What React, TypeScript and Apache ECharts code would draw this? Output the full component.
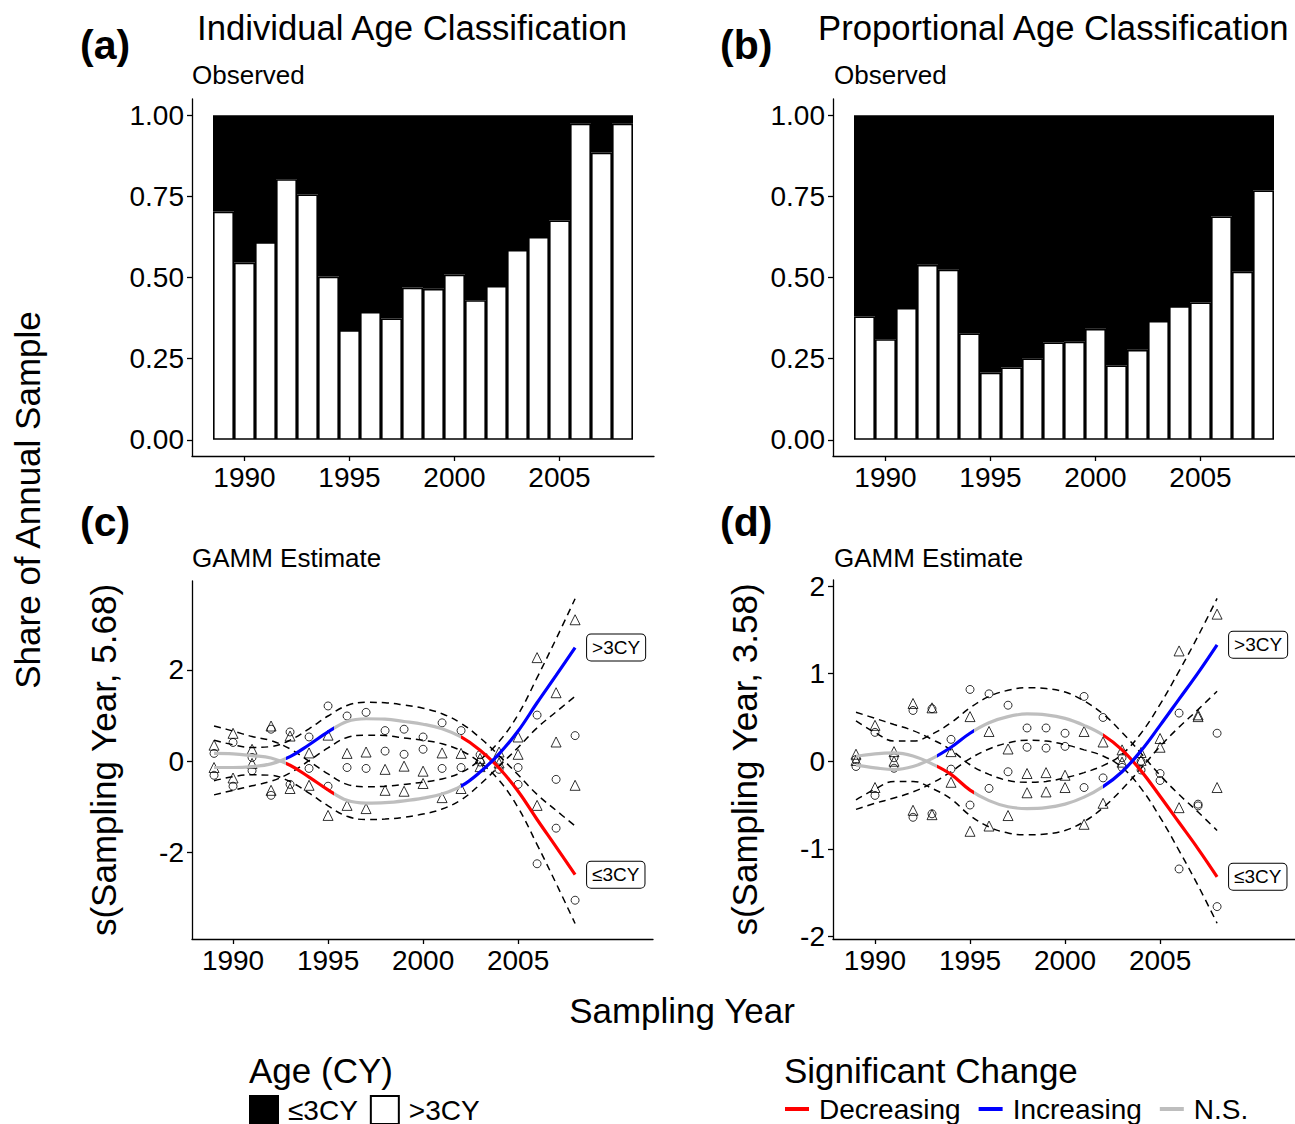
import React, { useEffect, useRef } from 'react';
import * as echarts from 'echarts';

// ---------------- DATA ----------------
const years = [1989, 1990, 1991, 1992, 1993, 1994, 1995, 1996, 1997, 1998, 1999, 2000, 2001, 2002, 2003, 2004, 2005, 2006, 2007, 2008];
// category slots of the observed-share panels (one empty slot on each side)
const barCategories = ['1988', '1989', '1990', '1991', '1992', '1993', '1994', '1995', '1996', '1997', '1998', '1999', '2000', '2001', '2002', '2003', '2004', '2005', '2006', '2007', '2008', '2009'];

// Observed shares (panel a: individual age classification)
const indOlderShare = [0.703, 0.546, 0.609, 0.803, 0.756, 0.503, 0.338, 0.394, 0.374, 0.469, 0.465, 0.509, 0.430, 0.474, 0.585, 0.625, 0.676, 0.974, 0.885, 0.974];
const indYoungShare = [0.297, 0.454, 0.391, 0.197, 0.244, 0.497, 0.662, 0.606, 0.626, 0.531, 0.535, 0.491, 0.570, 0.526, 0.415, 0.375, 0.324, 0.026, 0.115, 0.026];
// Observed shares (panel b: proportional age classification)
const propOlderShare = [0.380, 0.310, 0.406, 0.539, 0.524, 0.328, 0.207, 0.223, 0.251, 0.300, 0.302, 0.342, 0.229, 0.277, 0.366, 0.412, 0.423, 0.688, 0.518, 0.768];
const propYoungShare = [0.620, 0.690, 0.594, 0.461, 0.476, 0.672, 0.793, 0.777, 0.749, 0.700, 0.698, 0.658, 0.771, 0.723, 0.634, 0.588, 0.577, 0.312, 0.482, 0.232];

// GAMM estimate (panel c: individual)
const indYoungFit = [-0.14, -0.14, -0.12, -0.06, 0.10, 0.36, 0.64, 0.87, 0.93, 0.92, 0.87, 0.81, 0.71, 0.53, 0.24, -0.15, -0.66, -1.28, -1.88, -2.49];
const indYoungUpper = [0.46, 0.36, 0.30, 0.32, 0.46, 0.71, 0.99, 1.22, 1.29, 1.28, 1.23, 1.16, 1.04, 0.83, 0.51, 0.12, -0.30, -0.73, -1.08, -1.42];
const indYoungLower = [-0.74, -0.64, -0.54, -0.44, -0.26, 0.01, 0.29, 0.52, 0.57, 0.56, 0.51, 0.46, 0.38, 0.23, -0.03, -0.42, -1.02, -1.83, -2.68, -3.56];
const indOlderFit = [0.17, 0.16, 0.12, 0.07, -0.09, -0.35, -0.63, -0.86, -0.92, -0.91, -0.87, -0.81, -0.72, -0.55, -0.24, 0.16, 0.66, 1.28, 1.88, 2.49];
const indOlderUpper = [0.77, 0.66, 0.54, 0.45, 0.27, 0.00, -0.28, -0.51, -0.56, -0.55, -0.51, -0.46, -0.39, -0.25, 0.03, 0.43, 1.02, 1.83, 2.68, 3.56];
const indOlderLower = [-0.43, -0.34, -0.30, -0.31, -0.45, -0.70, -0.98, -1.21, -1.28, -1.27, -1.23, -1.16, -1.05, -0.85, -0.51, -0.11, 0.30, 0.73, 1.08, 1.42];
const indYoungResA = [0.17, 0.41, 0.08, 0.70, 0.64, 0.53, 1.21, 0.99, 1.07, 0.67, 0.70, 0.53, 0.84, 0.67, 0.14, 0.02, -0.14, 1.01, -0.40, 0.56];
const indYoungResB = [-0.31, -0.55, -0.21, -0.75, -0.51, -0.16, -0.55, -0.14, -0.16, 0.22, 0.15, 0.26, -0.16, -0.14, -0.02, -0.18, -0.51, -2.25, -1.47, -3.05];
const indOlderResA = [0.35, 0.61, 0.26, 0.77, 0.55, 0.18, 0.57, 0.17, 0.20, -0.18, -0.11, -0.22, 0.18, 0.17, 0.06, 0.20, 0.53, 2.27, 1.50, 3.10];
const indOlderResB = [-0.14, -0.37, -0.05, -0.64, -0.60, -0.53, -1.19, -0.97, -1.04, -0.64, -0.66, -0.49, -0.80, -0.60, -0.12, -0.04, 0.15, -0.97, 0.42, -0.53];
// years where significance of the individual fit changes
const indSigBreaks = [1992.8, 1995.3, 2002.0];

// GAMM estimate (panel d: proportional)
const propYoungFit = [-0.045, -0.075, -0.095, -0.06, 0.03, 0.16, 0.32, 0.44, 0.51, 0.54, 0.53, 0.49, 0.41, 0.30, 0.13, -0.11, -0.40, -0.70, -1.00, -1.32];
const propYoungUpper = [0.46, 0.33, 0.23, 0.23, 0.31, 0.44, 0.61, 0.74, 0.81, 0.84, 0.83, 0.79, 0.69, 0.54, 0.33, 0.09, -0.16, -0.38, -0.58, -0.79];
const propYoungLower = [-0.55, -0.48, -0.42, -0.35, -0.25, -0.12, 0.03, 0.14, 0.21, 0.24, 0.23, 0.19, 0.13, 0.06, -0.07, -0.31, -0.64, -1.02, -1.42, -1.85];
const propOlderFit = [0.057, 0.085, 0.095, 0.06, -0.03, -0.15, -0.33, -0.45, -0.52, -0.54, -0.53, -0.49, -0.41, -0.29, -0.12, 0.12, 0.41, 0.71, 1.01, 1.33];
const propOlderUpper = [0.56, 0.49, 0.42, 0.35, 0.25, 0.13, -0.04, -0.15, -0.22, -0.24, -0.23, -0.19, -0.13, -0.05, 0.08, 0.32, 0.65, 1.03, 1.43, 1.86];
const propOlderLower = [-0.44, -0.32, -0.23, -0.23, -0.31, -0.43, -0.62, -0.75, -0.82, -0.84, -0.83, -0.79, -0.69, -0.53, -0.32, -0.08, 0.17, 0.39, 0.59, 0.80];
const propYoungResA = [0.02, 0.33, 0.04, 0.58, 0.60, 0.25, 0.82, 0.77, 0.64, 0.38, 0.38, 0.32, 0.74, 0.50, 0.04, 0.00, -0.14, 0.55, -0.49, 0.32];
const propYoungResB = [-0.06, -0.39, -0.08, -0.64, -0.60, -0.09, -0.50, -0.31, -0.12, 0.16, 0.15, 0.17, -0.30, -0.19, -0.07, -0.10, -0.22, -1.23, -0.51, -1.66];
const propOlderResA = [0.08, 0.41, 0.11, 0.66, 0.61, 0.11, 0.51, 0.34, 0.14, -0.14, -0.13, -0.16, 0.34, 0.22, 0.13, 0.10, 0.26, 1.26, 0.53, 1.68];
const propOlderResB = [0.01, -0.30, 0.00, -0.56, -0.61, -0.24, -0.80, -0.74, -0.62, -0.36, -0.35, -0.30, -0.72, -0.48, -0.01, 0.01, 0.16, -0.53, 0.51, -0.30];
const propSigBreaks = [1993.25, 1995.2, 2002.0];

// tick labels
const xTicks = [1990, 1995, 2000, 2005];
const shareTicks = [0, 0.25, 0.5, 0.75, 1];
const indGammTicks = [-2, 0, 2];
const propGammTicks = [-2, -1, 0, 1, 2];

// ---------------- STYLE ----------------
const FONT = '"Liberation Sans", Arial, Helvetica, sans-serif';
const RED = '#FF0000';
const BLUE = '#0000FF';
const GRAY = '#BEBEBE';
const TICK_FONT = 28;

const pairs = (vals: number[]) => years.map((y, i) => [y, vals[i]]);
const catPairs = (vals: number[]) => years.map((y, i) => [String(y), vals[i]]);
const isTickYear = (_i: number, v: string) => xTicks.indexOf(Number(v)) >= 0;

const axisLine = { show: true, onZero: false, lineStyle: { color: '#000', width: 1.3 } };
const tickLine = { color: '#000', width: 1.3 };

function barXAxisCfg(gridIndex: number) {
  return {
    type: 'category', gridIndex, data: barCategories, boundaryGap: true,
    axisLine,
    axisTick: { show: true, length: 5, alignWithLabel: true, interval: isTickYear, lineStyle: tickLine },
    axisLabel: { show: true, interval: isTickYear, fontSize: TICK_FONT, color: '#000', margin: 7, fontFamily: FONT },
    splitLine: { show: false },
  };
}

function xAxisCfg(gridIndex: number, min: number, max: number) {
  return {
    type: 'value', gridIndex, min, max,
    axisLine,
    axisTick: { show: true, length: 5, customValues: xTicks, lineStyle: tickLine },
    axisLabel: { show: true, customValues: xTicks, fontSize: TICK_FONT, color: '#000', margin: 7, fontFamily: FONT, formatter: (v: number) => String(v) },
    splitLine: { show: false },
  };
}

function yAxisCfg(gridIndex: number, min: number, max: number, ticks: number[], fmt: (v: number) => string, name?: string) {
  return {
    type: 'value', gridIndex, min, max,
    name: name || '',
    nameLocation: 'middle', nameRotate: 90, nameGap: 71,
    nameTextStyle: { fontSize: 35, color: '#000', fontFamily: FONT },
    axisLine,
    axisTick: { show: true, length: 5, customValues: ticks, lineStyle: tickLine },
    axisLabel: { show: true, customValues: ticks, fontSize: TICK_FONT, color: '#000', margin: 8, fontFamily: FONT, formatter: fmt },
    splitLine: { show: false },
  };
}

function sigPieces(breaks: number[], early: string, late: string) {
  return [
    { lt: breaks[0], color: GRAY },
    { gte: breaks[0], lt: breaks[1], color: early },
    { gte: breaks[1], lt: breaks[2], color: GRAY },
    { gte: breaks[2], color: late },
  ];
}

function text(t: string, x: number, y: number, size: number, opts: any = {}) {
  return {
    type: 'text', x, y, rotation: opts.rotation || 0, silent: true,
    style: {
      text: t, fill: '#000',
      font: `${opts.bold ? 'bold ' : ''}${size}px ${FONT}`,
      textAlign: opts.align || 'left', textVerticalAlign: 'middle',
    },
  };
}

function buildOption() {
  const series: any[] = [];
  const visualMap: any[] = [];

  const bar = (name: string, ax: number, stack: string, vals: number[], fill: string) => ({
    type: 'bar', name, xAxisIndex: ax, yAxisIndex: ax, stack, barCategoryGap: '0%',
    data: catPairs(vals),
    itemStyle: { color: fill, borderColor: '#000', borderWidth: 1.6 },
    silent: true,
  });
  series.push(bar('>3CY', 0, 'a', indOlderShare, '#ffffff'));
  series.push(bar('≤3CY', 0, 'a', indYoungShare, '#000000'));
  series.push(bar('>3CY', 1, 'b', propOlderShare, '#ffffff'));
  series.push(bar('≤3CY', 1, 'b', propYoungShare, '#000000'));

  const dashed = (ax: number, vals: number[]) => ({
    type: 'line', xAxisIndex: ax, yAxisIndex: ax, data: pairs(vals), smooth: 0.4,
    showSymbol: false, silent: true, z: 3,
    lineStyle: { color: '#000', width: 1.5, type: [7, 5] },
  });
  const points = (ax: number, vals: number[], symbol: string, size: number) => ({
    type: 'scatter', xAxisIndex: ax, yAxisIndex: ax, data: pairs(vals), symbol, symbolSize: size,
    silent: true, z: 4,
    itemStyle: { color: 'rgba(0,0,0,0)', borderColor: '#000', borderWidth: 1 },
  });
  const fit = (ax: number, vals: number[], label: string, breaks: number[], early: string, late: string) => {
    const idx = series.length;
    series.push({
      type: 'line', name: label + ' fit', xAxisIndex: ax, yAxisIndex: ax, data: pairs(vals), smooth: 0.4,
      showSymbol: false, silent: true, z: 5,
      lineStyle: { width: 3.2 },
      endLabel: {
        show: true, formatter: label, color: '#000', fontSize: 19, fontFamily: FONT,
        backgroundColor: '#fff', borderColor: '#000', borderWidth: 1, borderRadius: 4,
        padding: [4, 5, 3, 5], distance: 12,
      },
    });
    visualMap.push({ type: 'piecewise', show: false, dimension: 0, seriesIndex: idx, pieces: sigPieces(breaks, early, late) });
  };

  // panel c
  [indYoungUpper, indYoungLower, indOlderUpper, indOlderLower].forEach(v => series.push(dashed(2, v)));
  series.push(points(2, indYoungResA, 'circle', 8));
  series.push(points(2, indYoungResB, 'circle', 8));
  series.push(points(2, indOlderResA, 'triangle', 10));
  series.push(points(2, indOlderResB, 'triangle', 10));
  fit(2, indYoungFit, '≤3CY', indSigBreaks, BLUE, RED);
  fit(2, indOlderFit, '>3CY', indSigBreaks, RED, BLUE);

  // panel d
  [propYoungUpper, propYoungLower, propOlderUpper, propOlderLower].forEach(v => series.push(dashed(3, v)));
  series.push(points(3, propYoungResA, 'circle', 8));
  series.push(points(3, propYoungResB, 'circle', 8));
  series.push(points(3, propOlderResA, 'triangle', 10));
  series.push(points(3, propOlderResB, 'triangle', 10));
  fit(3, propYoungFit, '≤3CY', propSigBreaks, BLUE, RED);
  fit(3, propOlderFit, '>3CY', propSigBreaks, RED, BLUE);

  // legend entries for significance colours
  [['Decreasing', RED], ['Increasing', BLUE], ['N.S.', GRAY]].forEach(([n, c]) => {
    series.push({ type: 'line', name: n, xAxisIndex: 3, yAxisIndex: 3, data: [], color: c, itemStyle: { color: c }, lineStyle: { color: c, width: 3 } });
  });

  const legendText = { fontSize: 28, color: '#000', fontFamily: FONT, padding: [0, 0, 0, 5] };

  return {
    animation: false,
    textStyle: { fontFamily: FONT, color: '#000' },
    grid: [
      { left: 192, top: 99, width: 462, height: 357, containLabel: false, outerBoundsMode: 'none' },
      { left: 833, top: 99, width: 462, height: 357, containLabel: false, outerBoundsMode: 'none' },
      { left: 192, top: 581, width: 461, height: 358, containLabel: false, outerBoundsMode: 'none' },
      { left: 833, top: 580, width: 462, height: 359, containLabel: false, outerBoundsMode: 'none' },
    ],
    xAxis: [
      barXAxisCfg(0),
      barXAxisCfg(1),
      xAxisCfg(2, 1987.84, 2012.1),
      xAxisCfg(3, 1987.79, 2012.1),
    ],
    yAxis: [
      yAxisCfg(0, -0.05, 1.05, shareTicks, (v: number) => v.toFixed(2)),
      yAxisCfg(1, -0.05, 1.05, shareTicks, (v: number) => v.toFixed(2)),
      yAxisCfg(2, -3.9, 3.95, indGammTicks, (v: number) => String(v), 's(Sampling Year, 5.68)'),
      yAxisCfg(3, -2.03, 2.07, propGammTicks, (v: number) => String(v), 's(Sampling Year, 3.58)'),
    ],
    visualMap,
    legend: [
      {
        data: ['≤3CY', '>3CY'], left: 249, top: 1095, padding: 0, orient: 'horizontal', icon: 'rect',
        itemWidth: 28, itemHeight: 28, itemGap: 12, selectedMode: false, textStyle: legendText,
      },
      {
        data: ['Decreasing', 'Increasing', 'N.S.'], left: 785, top: 1095, padding: 0, orient: 'horizontal',
        icon: 'rect', itemWidth: 24, itemHeight: 4, itemGap: 18, selectedMode: false, textStyle: legendText,
      },
    ],
    graphic: [
      text('(a)', 80, 45, 41, { bold: true }),
      text('(b)', 720, 45, 41, { bold: true }),
      text('(c)', 80, 522, 41, { bold: true }),
      text('(d)', 720, 522, 41, { bold: true }),
      text('Individual Age Classification', 197, 28, 34.7),
      text('Proportional Age Classification', 818, 28, 34.7),
      text('Observed', 192, 75, 26),
      text('Observed', 834, 75, 26),
      text('GAMM Estimate', 192, 558, 26),
      text('GAMM Estimate', 834, 558, 26),
      text('Share of Annual Sample', 27, 500, 35, { align: 'center', rotation: Math.PI / 2 }),
      text('Sampling Year', 682, 1010, 35, { align: 'center' }),
      text('Age (CY)', 249, 1070, 35),
      text('Significant Change', 784, 1070, 35),
    ],
    series,
  };
}

export default function App() {
  const ref = useRef<HTMLDivElement>(null);
  useEffect(() => {
    document.body.style.margin = '0';
    const chart = echarts.init(ref.current as HTMLDivElement, undefined, { renderer: 'svg' });
    chart.setOption(buildOption() as any);
    return () => chart.dispose();
  }, []);
  return <div ref={ref} style={{ position: 'absolute', left: 0, top: 0, width: 1295, height: 1124, background: '#fff' }} />;
}
